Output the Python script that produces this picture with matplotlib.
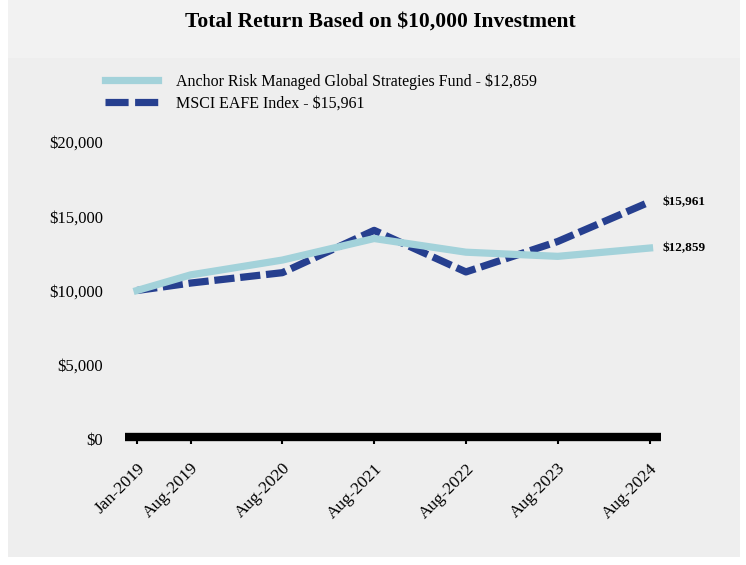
import numpy as np
import matplotlib.pyplot as plt
from matplotlib.patches import Rectangle
from matplotlib.lines import Line2D

# months since Jan-2019
months = [0, 7, 19, 31, 43, 55, 67]
tick_labels = ['Jan-2019', 'Aug-2019', 'Aug-2020', 'Aug-2021', 'Aug-2022', 'Aug-2023', 'Aug-2024']
fund = [10000, 11050, 12050, 13500, 12580, 12300, 12859]
msci = [10000, 10500, 11200, 14050, 11250, 13300, 15961]
fund_name = 'Anchor Risk Managed Global Strategies Fund - $12,859'
msci_name = 'MSCI EAFE Index - $15,961'

fund_c = '#a3d2da'
msci_c = '#263f8f'

plt.rcParams['font.family'] = ['Liberation Serif', 'DejaVu Serif']

fig = plt.figure(figsize=(7.46, 5.65), dpi=100)
fig.patch.set_facecolor('white')
# background panels
fig.patches.append(Rectangle((8/746, 8/565), 732/746, 499/565, transform=fig.transFigure,
                             facecolor='#eeeeee', edgecolor='none', zorder=-2))
fig.patches.append(Rectangle((8/746, 507/565), 732/746, 58/565, transform=fig.transFigure,
                             facecolor='#f2f2f2', edgecolor='none', zorder=-2))

fig.text(0.51, 0.962, 'Total Return Based on $10,000 Investment', ha='center', va='center',
         fontsize=15.5, fontweight='bold')

ax = fig.add_axes([125/746, 1-439/565, 536/746, 297/565])
ax.patch.set_visible(False)

ax.plot(months, msci, color=msci_c, lw=5.2, dashes=(2.8, 0.8), zorder=2)
ax.plot(months, fund, color=fund_c, lw=5.2, zorder=3)

for s in ['top', 'right', 'left']:
    ax.spines[s].set_visible(False)
ax.spines['bottom'].set_linewidth(6)
ax.spines['bottom'].set_position(('data', 150))
ax.spines['bottom'].set_capstyle('butt')

ax.set_ylim(0, 20000)
ax.set_xlim(-1.57, 68.5)
ax.set_yticks([0, 5000, 10000, 15000, 20000])
ax.set_yticklabels(['$0', '$5,000', '$10,000', '$15,000', '$20,000'])
ax.set_xticks(months)
ax.set_xticklabels(tick_labels, rotation=45, ha='right', rotation_mode='anchor')
ax.tick_params(axis='y', length=0, pad=16, labelsize=12)
ax.tick_params(axis='x', length=5, width=1.5, pad=12, labelsize=12.5)

ax.text(months[-1] + 1.7, msci[-1], '$15,961', fontsize=9.5, fontweight='bold', va='center')
ax.text(months[-1] + 1.7, fund[-1], '$12,859', fontsize=9.5, fontweight='bold', va='center')

handles = [Line2D([], [], color=fund_c, lw=5.2),
           Line2D([], [], color=msci_c, lw=5.2, dashes=(3.2, 0.9))]
fig.legend(handles, [fund_name, msci_name], loc='upper left', bbox_to_anchor=(91/746, 1-59/565),
           frameon=False, fontsize=11.5, handlelength=3.3, handletextpad=1.1, labelspacing=0.35)

fig.savefig('out.png', dpi=100, facecolor=fig.get_facecolor())
